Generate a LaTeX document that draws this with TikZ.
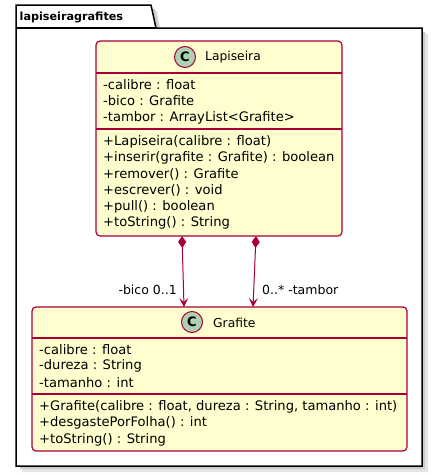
\documentclass[tikz,border=0pt]{standalone}
\usepackage{fontspec}
\setmainfont{DejaVu Sans}
\usetikzlibrary{arrows.meta}
\definecolor{umlred}{HTML}{A80036}
\definecolor{umlfill}{HTML}{FEFECE}
\definecolor{circfill}{HTML}{ADD1B2}
\begin{document}
\begin{tikzpicture}[x=1pt,y=-1pt,
  classbox/.style={draw=umlred, fill=umlfill, line width=1.2pt, rounded corners=4pt, rectangle, inner sep=0pt},
  sepline/.style={draw=umlred, line width=1.2pt},
  member/.style={anchor=west, inner sep=0pt, font=\fontsize{13.1}{14}\selectfont},
  ctitle/.style={anchor=west, inner sep=0pt, font=\fontsize{12.3}{14}\selectfont},
  cicon/.style={circle, draw=umlred, fill=circfill, line width=1pt, minimum size=21pt, inner sep=0pt, font=\fontsize{13}{13}\bfseries\selectfont},
  rel/.style={draw=umlred, line width=1pt, {Diamond[length=12pt,width=8pt]}-{Stealth[length=9pt,width=9pt,inset=4pt]}},
  rlabel/.style={inner sep=0pt, font=\fontsize{12.5}{14}\selectfont}
]
\useasboundingbox (0,0) rectangle (438,474);
% package shadow
\fill[black!10] (22,11) -- (157,11) -- (162,34) -- (428,34) -- (428,472) -- (22,472) -- cycle;
\fill[black!20] (20,9) -- (155,9) -- (160,32) -- (425,32) -- (425,469) -- (20,469) -- cycle;
% package
\draw[line width=1.5pt, fill=white] (16,28) -- (16,5) -- (151,5) -- (156,28) -- (422,28) -- (422,466) -- (16,466) -- cycle;
\draw[line width=1.5pt] (16,28) -- (156,28);
\node[anchor=west, inner sep=0pt, font=\fontsize{11.2}{14}\bfseries\selectfont] (pkg) at (19.5,17) {lapiseiragrafites};

% Lapiseira
\node[classbox, minimum width=246pt, minimum height=195pt] (lap) at (219,138.5) {};
\draw[sepline] (96,73) -- (342,73);
\draw[sepline] (96,129) -- (342,129);
\node[cicon] (lapc) at (185,57) {C};
\node[ctitle] (lapt) at (205,57.5) {Lapiseira};
\node[member] (la1) at (103,85) {-calibre : float};
\node[member] (la2) at (103,101) {-bico : Grafite};
\node[member] (la3) at (103,118) {-tambor : ArrayList<Grafite>};
\node[member] (lm1) at (103,142) {+Lapiseira(calibre : float)};
\node[member] (lm2) at (103,158) {+inserir(grafite : Grafite) : boolean};
\node[member] (lm3) at (103,174) {+remover() : Grafite};
\node[member] (lm4) at (103,190.5) {+escrever() : void};
\node[member] (lm5) at (103,207) {+pull() : boolean};
\node[member] (lm6) at (103,223) {+toString() : String};

% Grafite
\node[classbox, minimum width=375pt, minimum height=144pt] (graf) at (219.5,379) {};
\draw[sepline] (32,338) -- (407,338);
\draw[sepline] (32,394) -- (407,394);
\node[cicon] (grafc) at (192,322) {C};
\node[ctitle] (graft) at (213,322.5) {Grafite};
\node[member] (ga1) at (39,350) {-calibre : float};
\node[member] (ga2) at (39,366) {-dureza : String};
\node[member] (ga3) at (39,383) {-tamanho : int};
\node[member] (gm1) at (39,407) {+Grafite(calibre : float, dureza : String, tamanho : int)};
\node[member] (gm2) at (39,423) {+desgastePorFolha() : int};
\node[member] (gm3) at (39,439.5) {+toString() : String};

% relations
\coordinate (b1) at (182,236);
\coordinate (b2) at (184,307);
\coordinate (t1) at (256,236);
\coordinate (t2) at (253,307);
\draw[rel] (b1) -- (b2);
\draw[rel] (t1) -- (t2);
\node[rlabel, anchor=east] (lb) at (177,290) {-bico 0..1};
\node[rlabel, anchor=west] (lt) at (262,290) {0..* -tambor};
\end{tikzpicture}
\end{document}
